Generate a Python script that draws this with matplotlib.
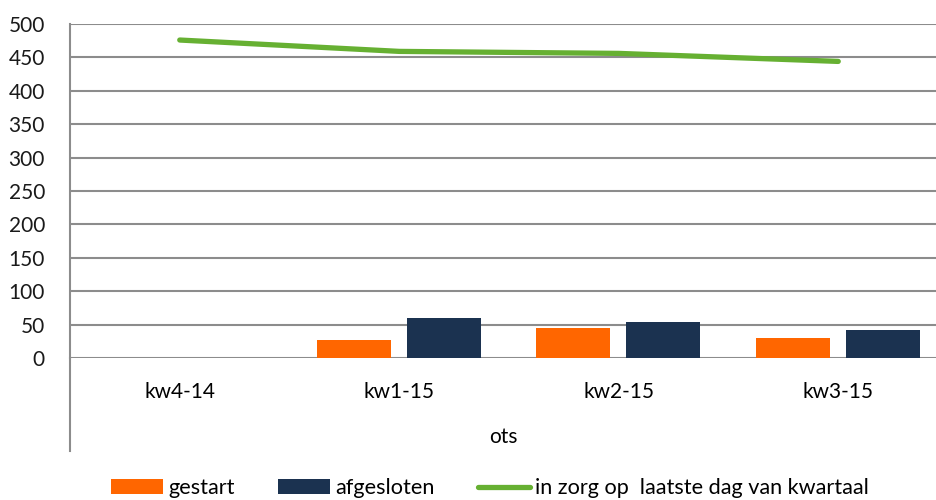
import numpy as np
import matplotlib
matplotlib.use("Agg")
import matplotlib.pyplot as plt
from matplotlib.lines import Line2D
from matplotlib.patches import Patch

categories = ["kw4-14", "kw1-15", "kw2-15", "kw3-15"]
gestart = [np.nan, 27, 45, 30]
afgesloten = [np.nan, 60, 54, 42]
in_zorg = [476, 459, 456, 444]
group_label = "ots"
y_ticks = [0, 50, 100, 150, 200, 250, 300, 350, 400, 450, 500]

orange = "#FF6600"
navy = "#1B3250"
green = "#66B032"
grid_gray = "#8C8C8C"

plt.rcParams["font.family"] = ["Lato", "DejaVu Sans"]

fig = plt.figure(figsize=(9.37, 5), dpi=100)
# plot area runs a little past the right edge, as in the source
ax = fig.add_axes([70 / 937, 1 - 358 / 500, 878 / 937, 334 / 500])

x = np.arange(len(categories))
bw = 0.337
ax.bar(x - 0.207, gestart, width=bw, color=orange, zorder=3)
ax.bar(x + 0.203, afgesloten, width=bw, color=navy, zorder=3)
ax.plot(x, in_zorg, color=green, lw=3.8, solid_capstyle="round", zorder=4)

ax.set_xlim(-0.5, len(categories) - 0.5)
ax.set_ylim(0, 500)
ax.set_yticks(y_ticks)
ax.set_xticks(x)
ax.set_xticklabels(categories)
ax.tick_params(axis="y", length=0, pad=18, labelsize=15)
ax.tick_params(axis="x", length=0, pad=17, labelsize=15)
for lab in ax.get_yticklabels():
    lab.set_color("#1a1a1a")

ax.yaxis.grid(True, color=grid_gray, lw=1.5, zorder=0)
for side in ["top", "right", "bottom"]:
    ax.spines[side].set_visible(False)
ax.spines["left"].set_color(grid_gray)
ax.spines["left"].set_linewidth(1.5)

# multi-level category axis: left divider runs down into the label area
fig.add_artist(Line2D([70 / 937, 70 / 937], [1 - 358 / 500, 1 - 451 / 500],
                      color=grid_gray, lw=1.5))
fig.text(503 / 937, 1 - 437 / 500, group_label, ha="center", va="center",
         fontsize=15)

handles = [
    Patch(facecolor=orange),
    Patch(facecolor=navy),
    Line2D([], [], color=green, lw=3.8, solid_capstyle="round"),
]
fig.legend(handles, ["gestart", "afgesloten", "in zorg op  laatste dag van kwartaal"],
           loc="center", bbox_to_anchor=(490 / 937, 1 - 488 / 500), ncol=3,
           frameon=False, fontsize=15.6, handlelength=2.4, handleheight=0.67,
           handletextpad=0.25, columnspacing=2.0)

fig.savefig("out.png", dpi=100)
